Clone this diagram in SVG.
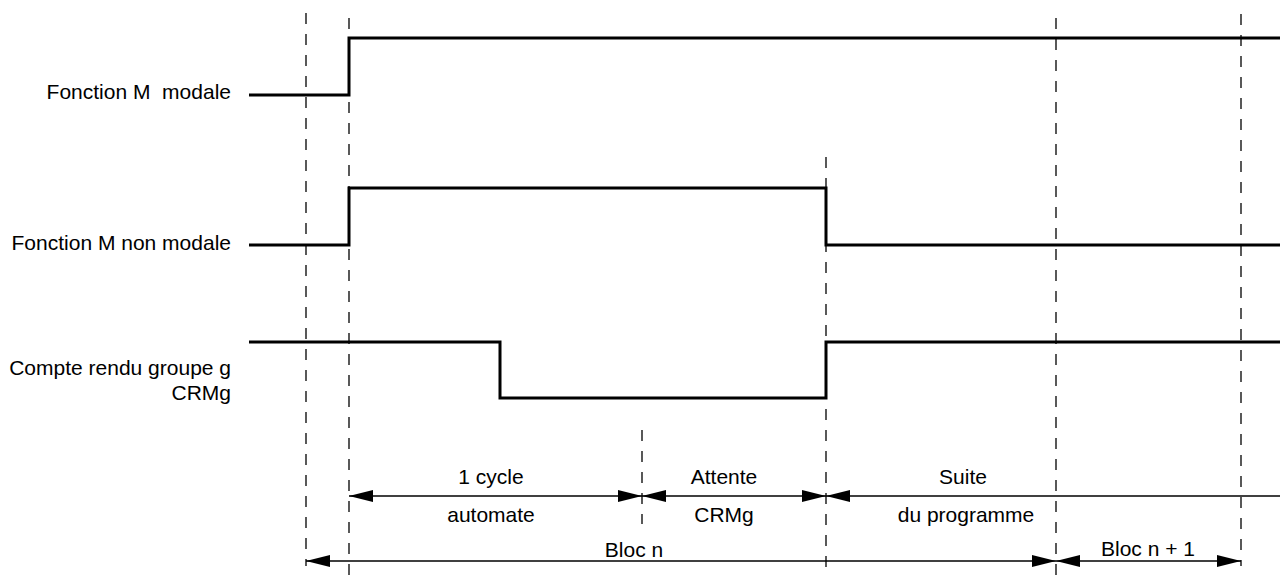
<svg xmlns="http://www.w3.org/2000/svg" width="1280" height="583" viewBox="0 0 1280 583">
<style>
  .sig { fill: none; stroke: #000; stroke-width: 3; stroke-linejoin: miter; stroke-linecap: butt; }
  .dash { fill: none; stroke: #000; stroke-width: 1.3; stroke-dasharray: 11 10; }
  .dim { fill: none; stroke: #000; stroke-width: 1.3; }
  .lbl { font-family: "Liberation Sans", Arial, sans-serif; font-size: 21px; fill: #000; }
  .l { text-anchor: end; }
  .c { text-anchor: middle; }
</style>
<defs>
  <marker id="ah" markerUnits="userSpaceOnUse" markerWidth="24" markerHeight="12" refX="24" refY="6" orient="auto-start-reverse" viewBox="0 0 24 12">
    <path d="M0,0 L24,6 L0,12 Z" fill="#000"/>
  </marker>
</defs>
<rect width="1280" height="583" fill="#fff"/>

<g id="guides">
  <line class="dash" x1="306" y1="13" x2="306" y2="566"/>
  <line class="dash" x1="349" y1="18" x2="349" y2="583"/>
  <line class="dash" x1="642" y1="430" x2="642" y2="524"/>
  <line class="dash" x1="826" y1="157" x2="826" y2="576"/>
  <line class="dash" x1="1056" y1="18" x2="1056" y2="583"/>
  <line class="dash" x1="1241" y1="14" x2="1241" y2="566"/>
</g>

<g id="sig-modale">
  <path class="sig" d="M249,95 H349 V38 H1280"/>
  <text class="lbl l" x="231" y="99">Fonction M&#160; modale</text>
</g>

<g id="sig-non-modale">
  <path class="sig" d="M249,245 H349 V188 H826 V245 H1280"/>
  <text class="lbl l" x="231" y="250">Fonction M non modale</text>
</g>

<g id="sig-crmg">
  <path class="sig" d="M249,342 H500 V398 H826 V342 H1280"/>
  <text class="lbl l" x="231" y="375">Compte rendu groupe g</text>
  <text class="lbl l" x="231" y="400">CRMg</text>
</g>

<g id="connectors">
  <line class="dim" x1="349" y1="496" x2="642" y2="496" marker-start="url(#ah)" marker-end="url(#ah)"/>
  <line class="dim" x1="642" y1="496" x2="826" y2="496" marker-start="url(#ah)" marker-end="url(#ah)"/>
  <line class="dim" x1="826" y1="496" x2="1280" y2="496" marker-start="url(#ah)"/>
  <line class="dim" x1="306" y1="561" x2="1056" y2="561" marker-start="url(#ah)" marker-end="url(#ah)"/>
  <line class="dim" x1="1056" y1="561" x2="1241" y2="561" marker-start="url(#ah)" marker-end="url(#ah)"/>
</g>

<g id="lbl-cycle">
  <text class="lbl c" x="491" y="484">1 cycle</text>
  <text class="lbl c" x="491" y="522">automate</text>
</g>
<g id="lbl-attente">
  <text class="lbl c" x="724" y="484">Attente</text>
  <text class="lbl c" x="724" y="522">CRMg</text>
</g>
<g id="lbl-suite">
  <text class="lbl c" x="963" y="484">Suite</text>
  <text class="lbl c" x="966" y="522">du programme</text>
</g>
<g id="lbl-bloc">
  <text class="lbl c" x="634" y="557">Bloc n</text>
  <text class="lbl c" x="1148" y="556">Bloc n + 1</text>
</g>
</svg>
